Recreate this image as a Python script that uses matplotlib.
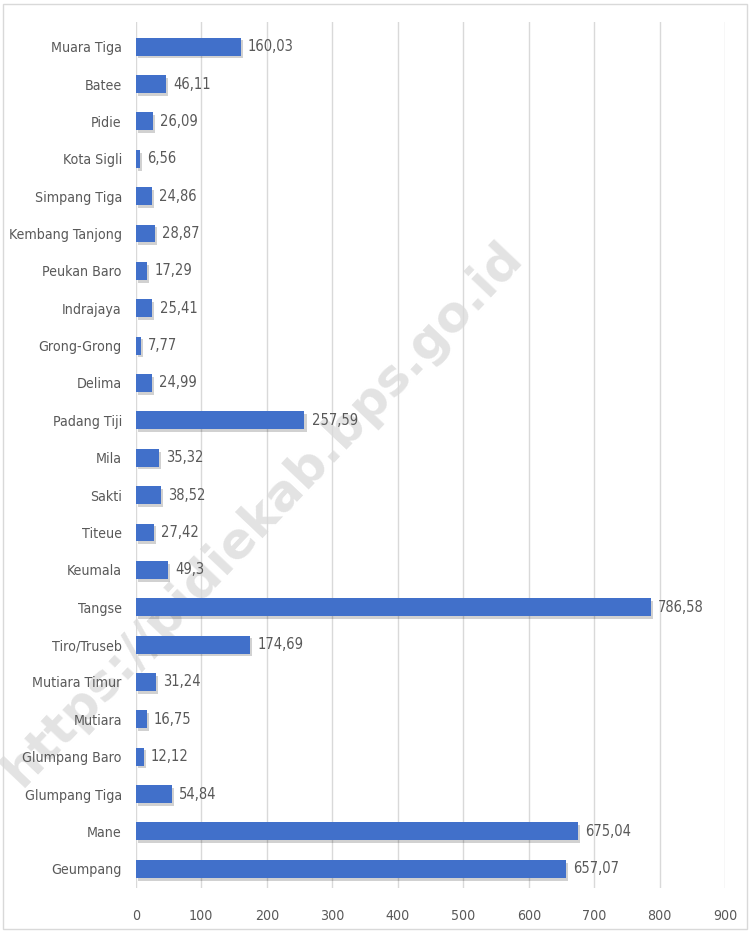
import matplotlib
matplotlib.use("Agg")
import matplotlib.pyplot as plt
import matplotlib.patheffects as pe
from matplotlib.patches import Rectangle

plt.rcParams['font.family'] = ['DejaVu Sans']
plt.rcParams['font.stretch'] = 'condensed'

kecamatan = ["Muara Tiga", "Batee", "Pidie", "Kota Sigli", "Simpang Tiga",
             "Kembang Tanjong", "Peukan Baro", "Indrajaya", "Grong-Grong", "Delima",
             "Padang Tiji", "Mila", "Sakti", "Titeue", "Keumala", "Tangse",
             "Tiro/Truseb", "Mutiara Timur", "Mutiara", "Glumpang Baro",
             "Glumpang Tiga", "Mane", "Geumpang"]
luas = [160.03, 46.11, 26.09, 6.56, 24.86, 28.87, 17.29, 25.41, 7.77, 24.99,
        257.59, 35.32, 38.52, 27.42, 49.3, 786.58, 174.69, 31.24, 16.75, 12.12,
        54.84, 675.04, 657.07]
xticks = [0, 100, 200, 300, 400, 500, 600, 700, 800, 900]

# bottom to top
names = kecamatan[::-1]
vals = luas[::-1]
ypos = list(range(len(names)))

txt = "#595959"
fig = plt.figure(figsize=(7.5, 9.33), dpi=100)

# watermark behind the chart
fig.text(0.35, 0.45, "https://pidiekab.bps.go.id", rotation=46.5, fontsize=36,
         fontweight="bold", color="#e3e3e3", ha="center", va="center",
         fontstretch="normal", zorder=-5)

ax = fig.add_axes([0.181, 0.048, 0.786, 0.928])
ax.set_facecolor("none")

bars = ax.barh(ypos, vals, height=0.48, color="#4170CA", zorder=3)
for b in bars:
    b.set_path_effects([pe.withSimplePatchShadow(offset=(1.5, -2), shadow_rgbFace="#000000", alpha=0.18), pe.Normal()])

for y, v in zip(ypos, vals):
    ax.text(v + 11, y, str(v).replace(".", ","), va="center", ha="left",
            fontsize=10.5, color=txt, zorder=4)

ax.set_xlim(0, 900)
ax.set_ylim(-0.52, 22.65)
ax.set_xticks(xticks)
ax.set_yticks(ypos)
ax.set_yticklabels(names)
ax.tick_params(axis="both", length=0, colors=txt, labelsize=10.2)
ax.tick_params(axis="x", pad=15)
ax.tick_params(axis="y", pad=10)
ax.xaxis.grid(True, color="#d9d9d9", linewidth=1, zorder=0)
for s in ax.spines.values():
    s.set_visible(False)

fig.patches.append(Rectangle((0.004, 0.004), 0.992, 0.992, transform=fig.transFigure,
                             fill=False, edgecolor="#d9d9d9", linewidth=1))

fig.savefig("out.png", dpi=100)
